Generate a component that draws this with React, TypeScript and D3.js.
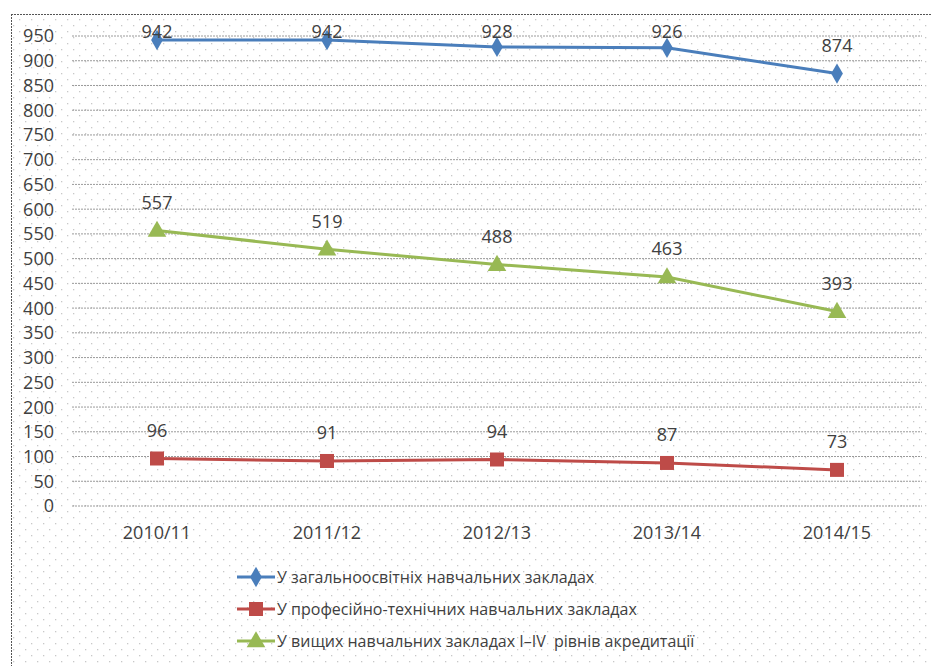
import React from "react";
import * as d3 from "d3";

const years = ["2010/11", "2011/12", "2012/13", "2013/14", "2014/15"];
const general = [942, 942, 928, 926, 874];
const vocational = [96, 91, 94, 87, 73];
const higher = [557, 519, 488, 463, 393];
const yTicks = d3.range(0, 1000, 50);

const seriesNames = [
  "У загальноосвітніх навчальних закладах",
  "У професійно-технічних навчальних закладах",
  "У вищих навчальних закладах I–IV  рівнів акредитації",
];
const seriesColors = ["#4a7ebb", "#be4b48", "#98b954"];
const seriesValues = [general, vocational, higher];
const seriesMarkers = ["diamond", "square", "triangle"];

const W = 931;
const H = 666;
const FONT = "'Open Sans', Lato, sans-serif";

function Marker({ kind, x, y, color }: { kind: string; x: number; y: number; color: string }) {
  if (kind === "square") return <rect x={x - 7} y={y - 7} width={14} height={14} fill={color} />;
  const sym = kind === "diamond" ? d3.symbolDiamond : d3.symbolTriangle;
  const size = kind === "diamond" ? 120 : 150;
  const p = d3.symbol(sym, size)() as string;
  return <path d={p} transform={`translate(${x},${y + (kind === "triangle" ? 1 : 0)})`} fill={color} />;
}

export default function App() {
  const x = d3.scaleBand().domain(years).range([72, 922]);
  const y = d3.scaleLinear().domain([0, 950]).range([506, 36]);
  const cx = (i: number) => (x(years[i]) as number) + x.bandwidth() / 2;
  const line = d3
    .line<number>()
    .x((_, i) => cx(i))
    .y((d) => y(d));

  return (
    <svg
      width={W}
      height={H}
      style={{ position: "absolute", left: 0, top: 0, fontFamily: FONT }}
    >
      <defs>
        <pattern id="dots" width={12} height={12} patternUnits="userSpaceOnUse">
          <rect x={1} y={1} width={1.3} height={1.3} fill="#c8c8c8" />
          <rect x={7} y={7} width={1.3} height={1.3} fill="#c8c8c8" />
        </pattern>
      </defs>
      <rect x={0} y={0} width={W} height={H} fill="#fff" />
      <rect x={11} y={14} width={W} height={H} fill="url(#dots)" />
      <line x1={11} x2={W} y1={14.5} y2={14.5} stroke="#555" strokeDasharray="2,1" />
      <line x1={11.5} x2={11.5} y1={14} y2={H} stroke="#555" strokeDasharray="2,1" />

      {yTicks.map((t) => (
        <g key={t}>
          <line
            x1={72}
            x2={922}
            y1={y(t)}
            y2={y(t)}
            stroke="#9a9a9a"
            strokeWidth={1}
            strokeDasharray="2,1"
          />
          <text x={54} y={y(t)} dy="0.36em" textAnchor="end" fontSize={18} fill="#404040">
            {t}
          </text>
        </g>
      ))}

      {years.map((yr, i) => (
        <text key={yr} x={cx(i)} y={539} textAnchor="middle" fontSize={18} fill="#404040">
          {yr}
        </text>
      ))}

      {seriesValues.map((vals, si) => (
        <g key={si}>
          <path d={line(vals) as string} fill="none" stroke={seriesColors[si]} strokeWidth={3} />
          {vals.map((v, i) => (
            <Marker key={i} kind={seriesMarkers[si]} x={cx(i)} y={y(v)} color={seriesColors[si]} />
          ))}
          {vals.map((v, i) => (
            <text
              key={"l" + i}
              x={cx(i)}
              y={Math.max(y(v) - 28, 32)}
              dy="0.36em"
              textAnchor="middle"
              fontSize={18}
              fill="#404040"
            >
              {v}
            </text>
          ))}
        </g>
      ))}

      {seriesNames.map((name, i) => {
        const ly = 577 + i * 32;
        return (
          <g key={name}>
            <line x1={237} x2={275} y1={ly} y2={ly} stroke={seriesColors[i]} strokeWidth={3} />
            <Marker kind={seriesMarkers[i]} x={256} y={ly} color={seriesColors[i]} />
            <text x={277} y={ly} dy="0.36em" fontSize={16} fill="#404040" style={{ whiteSpace: "pre" }}>
              {name}
            </text>
          </g>
        );
      })}
    </svg>
  );
}
